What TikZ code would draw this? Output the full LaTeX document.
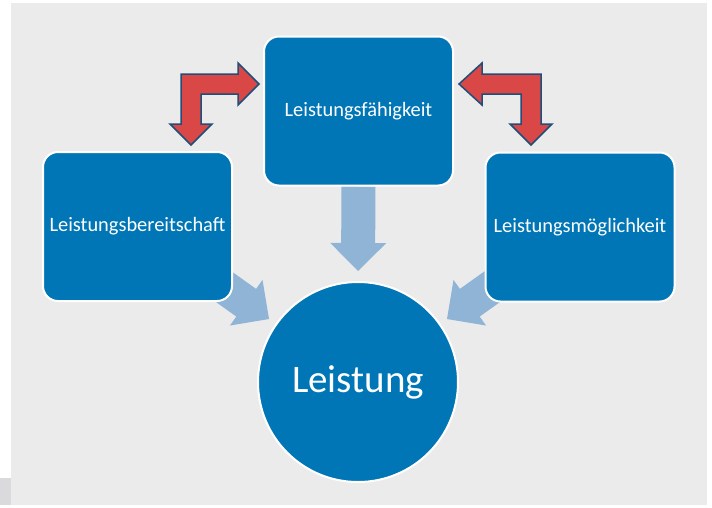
\documentclass[tikz,border=0pt]{standalone}
\usepackage{fontspec}
\setmainfont{Carlito}
\usetikzlibrary{calc}
\pgfdeclarelayer{bg}
\pgfsetlayers{bg,main}
\definecolor{boxblue}{RGB}{0,118,182}
\definecolor{lightarrow}{RGB}{143,180,214}
\definecolor{arrowred}{RGB}{217,71,71}
\definecolor{rimblue}{RGB}{31,78,121}
\definecolor{paper}{RGB}{234,235,234}
\definecolor{tabgrey}{RGB}{218,218,220}
\tikzset{
    factor/.style={rectangle, rounded corners=15pt, draw=white, line width=2pt,
        fill=boxblue, text=white, minimum width=189pt, minimum height=149pt,
        inner sep=0pt, font=\fontsize{20.4}{24}\selectfont},
    result/.style={circle, draw=white, line width=2pt, fill=boxblue, text=white,
        minimum size=200pt, inner sep=0pt, font=\fontsize{39}{46}\selectfont},
    bent/.style={fill=arrowred, draw=rimblue, line width=1.5pt, line join=miter}
}
% block arrow from coordinate #1 to coordinate #2
\newcommand{\blockarrow}[2]{%
  \coordinate (#1-base) at ($(#2)!28pt!(#1)$);
  \fill[lightarrow] ($(#1)!17pt!90:(#2)$) -- ($(#1-base)!17pt!90:(#2)$)
    -- ($(#1-base)!28pt!90:(#2)$) -- (#2) -- ($(#1-base)!28pt!-90:(#2)$)
    -- ($(#1-base)!17pt!-90:(#2)$) -- ($(#1)!17pt!-90:(#2)$) -- cycle;
}

\begin{document}
\begin{tikzpicture}[x=1pt,y=-1pt]
\useasboundingbox (0,0) rectangle (712,507);

% the four blocks
\node[factor] (bereit) at (137.5,226.5) {Leistungsbereitschaft};
\node[factor] (faehig) at (358.5,111) {Leistungsfähigkeit};
\node[factor] (moeglich) at (580,227) {Leistungsmöglichkeit};
\node[result] (leistung) at (358,382) {Leistung};

\begin{pgfonlayer}{bg}
\fill[paper] (11,3) rectangle (707,505);
\fill[tabgrey] (0,478) rectangle (11,505);

% light arrows into the circle
\coordinate (fs) at (faehig.south);
\coordinate (fe) at ($(leistung.north)+(0,-10)$);
\coordinate (bs) at (220,284);
\coordinate (be) at (269,319);
\coordinate (ms) at (496,284);
\coordinate (me) at (447,319);
\blockarrow{fs}{fe}
\blockarrow{bs}{be}
\blockarrow{ms}{me}
\end{pgfonlayer}

% bent arrows
\draw[bent] (181,74) -- (238,74) -- (238,63) -- (259,84) -- (238,105) -- (238,94)
  -- (201,94) -- (201,124) -- (212,124) -- (191,145) -- (170,124) -- (181,124) -- cycle;
\draw[bent] (541,74) -- (482,74) -- (482,63) -- (459,84) -- (482,105) -- (482,94)
  -- (521,94) -- (521,124) -- (510,124) -- (531,145) -- (552,124) -- (541,124) -- cycle;

\end{tikzpicture}
\end{document}
